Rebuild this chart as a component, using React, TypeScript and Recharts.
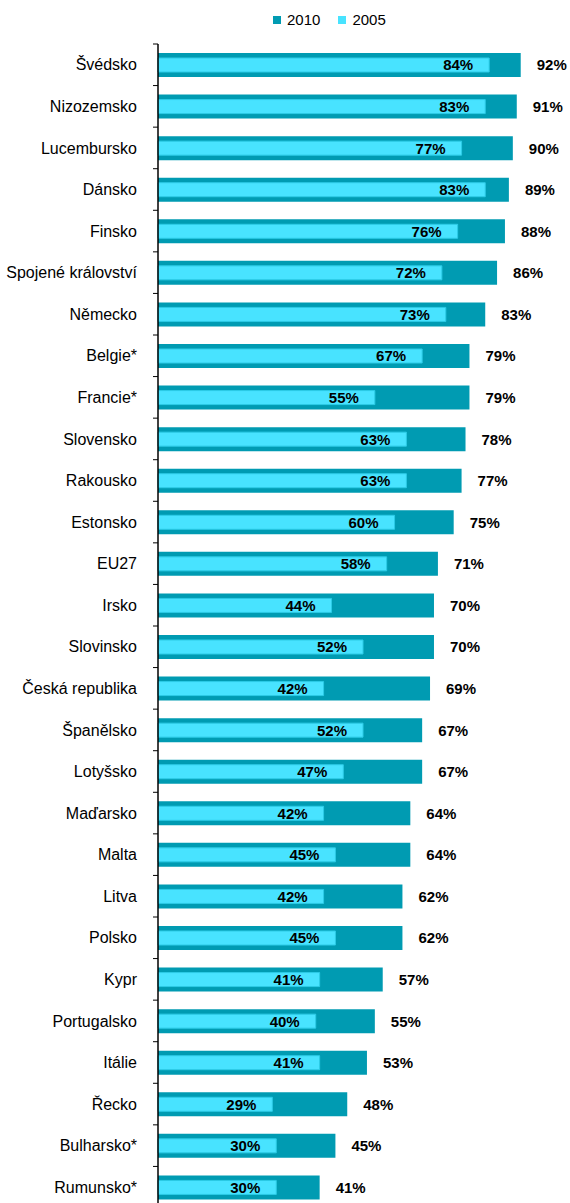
import { Bar, BarChart, LabelList, XAxis, YAxis } from "recharts";

const countries = [
  "Švédsko", "Nizozemsko", "Lucembursko", "Dánsko", "Finsko", "Spojené království",
  "Německo", "Belgie*", "Francie*", "Slovensko", "Rakousko", "Estonsko", "EU27",
  "Irsko", "Slovinsko", "Česká republika", "Španělsko", "Lotyšsko", "Maďarsko",
  "Malta", "Litva", "Polsko", "Kypr", "Portugalsko", "Itálie", "Řecko",
  "Bulharsko*", "Rumunsko*",
];
const values2010 = [92, 91, 90, 89, 88, 86, 83, 79, 79, 78, 77, 75, 71, 70, 70, 69, 67, 67, 64, 64, 62, 62, 57, 55, 53, 48, 45, 41];
const values2005 = [84, 83, 77, 83, 76, 72, 73, 67, 55, 63, 63, 60, 58, 44, 52, 42, 52, 47, 42, 45, 42, 45, 41, 40, 41, 29, 30, 30];

const data = countries.map((name, i) => ({ name, y2010: values2010[i], y2005: values2005[i] }));

const FONT = "'Liberation Sans', Arial, sans-serif";
const C2010 = "#009BB2";
const C2005 = "#48E3FF";
const TOP = 44;
const PLOT_H = 1164;
const BAND = PLOT_H / countries.length;

const CategoryTick = (props: any) => {
  const { y, payload } = props;
  return (
    <g>
      <line x1={153} x2={158} y1={y - BAND / 2} y2={y - BAND / 2} stroke="#000" />
      <text x={137} y={y} dy="0.35em" textAnchor="end" fontSize={16} fill="#000" fontFamily={FONT}>
        {payload.value}
      </text>
    </g>
  );
};

const innerLabel = (props: any) => {
  const { x, y, width, height, value } = props;
  return (
    <text x={x + width - 16} y={y + height / 2} dy="0.36em" textAnchor="end" fontSize={15} fontWeight="bold" fill="#000" fontFamily={FONT}>
      {value}%
    </text>
  );
};

const outerLabel = (props: any) => {
  const { x, y, width, height, value } = props;
  return (
    <text x={x + width + 16} y={y + height / 2} dy="0.36em" textAnchor="start" fontSize={15} fontWeight="bold" fill="#000" fontFamily={FONT}>
      {value}%
    </text>
  );
};

export default function App() {
  return (
    <div style={{ position: "absolute", left: 0, top: 0, width: 570, height: 1210, fontFamily: FONT }}>
      <div style={{ position: "absolute", top: 11, left: 273, display: "flex", alignItems: "center", fontSize: 15, color: "#000" }}>
        <span style={{ width: 8, height: 8, background: C2010, display: "inline-block", marginRight: 6 }} />
        <span style={{ marginRight: 18 }}>2010</span>
        <span style={{ width: 8, height: 8, background: C2005, display: "inline-block", marginRight: 6 }} />
        <span>2005</span>
      </div>
      <BarChart
        width={570}
        height={TOP + PLOT_H + 2}
        data={data}
        layout="vertical"
        margin={{ top: TOP, right: 0, bottom: 2, left: 0 }}
      >
        <XAxis
          type="number"
          orientation="top"
          domain={[0, 104.5]}
          height={0}
          tick={false}
          tickLine={false}
          axisLine={{ stroke: "#A6A6A6", strokeWidth: 2 }}
        />
        <YAxis
          yAxisId="a"
          type="category"
          dataKey="name"
          width={158}
          tickLine={false}
          axisLine={{ stroke: "#000", strokeWidth: 1.5 }}
          tick={<CategoryTick />}
          interval={0}
        />
        <YAxis yAxisId="b" type="category" dataKey="name" hide />
        <Bar yAxisId="a" dataKey="y2010" name="2010" fill={C2010} barSize={24} isAnimationActive={false}>
          <LabelList dataKey="y2010" content={outerLabel} />
        </Bar>
        <Bar yAxisId="b" dataKey="y2005" name="2005" fill={C2005} stroke="#2CCBE6" strokeWidth={1} barSize={14} isAnimationActive={false}>
          <LabelList dataKey="y2005" content={innerLabel} />
        </Bar>
      </BarChart>
    </div>
  );
}
